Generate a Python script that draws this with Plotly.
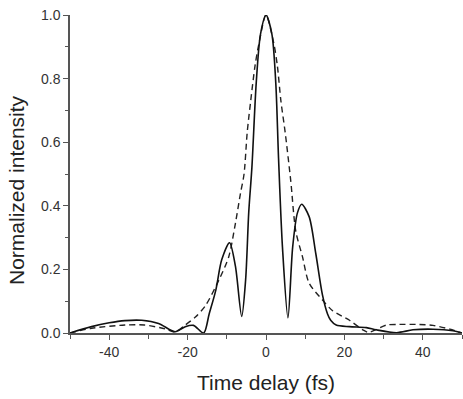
import plotly.graph_objects as go

# Solid curve (measured)
solid_x = [-50, -44.5, -40, -36, -31.7, -27.4, -23.2, -20.6, -18.5, -15.9, -14.5, -12.8, -11.3, -9.3,
           -7.8, -6.2, -5.2, -4.4, -3.6, -2.5, -1.4, 0, 1.5, 2.5, 3.2, 4.2, 5.6, 6.8, 8.0, 9.1,
           11.0, 12.7, 14.4, 15.7, 16.5, 17.9, 21.3, 25.6, 28.1, 33.3, 37.5, 42.6, 47.7, 50]
solid_y = [0.0, 0.02, 0.032, 0.039, 0.04, 0.03, 0.004, 0.02, 0.024, 0.0, 0.06, 0.135, 0.23, 0.284,
           0.21, 0.052, 0.167, 0.38, 0.52, 0.785, 0.94, 1.0, 0.94, 0.785, 0.55, 0.27, 0.048, 0.27, 0.377, 0.405,
           0.366, 0.25, 0.12, 0.06, 0.04, 0.025, 0.02, 0.017, 0.01, 0.001, 0.01, 0.012, 0.007, 0.0]

# Dashed curve (measured)
dash_x = [-50, -44.5, -36, -31, -25.7, -23.2, -20.6, -18, -15.5, -12, -9.5, -7.8, -6.5, -5.6,
          -4.8, -3.9, -2.8, -1.8, 0, 2.0, 2.9, 3.8, 4.9, 6.3, 7.6, 9.3, 11.0, 14.4, 17, 21.3,
          24.7, 26.2, 30.7, 34, 38.3, 42.6, 46.9, 50]
dash_y = [0.0, 0.015, 0.025, 0.025, 0.013, 0.003, 0.025, 0.05, 0.085, 0.167, 0.24, 0.345, 0.44, 0.50,
          0.63, 0.73, 0.84, 0.91, 1.0, 0.91, 0.84, 0.73, 0.63, 0.48, 0.32, 0.24, 0.157, 0.104, 0.07, 0.04,
          0.01, 0.002, 0.025, 0.027, 0.027, 0.024, 0.012, 0.0]

x_ticks = [-40, -20, 0, 20, 40]
y_ticks = [0.0, 0.2, 0.4, 0.6, 0.8, 1.0]
x_title = "Time delay (fs)"
y_title = "Normalized intensity"

fig = go.Figure()
fig.add_trace(go.Scatter(x=dash_x, y=dash_y, mode="lines",
                         line=dict(color="#222", width=1.4, dash="6px,4px", shape="spline", smoothing=0.8),
                         showlegend=False))
fig.add_trace(go.Scatter(x=solid_x, y=solid_y, mode="lines",
                         line=dict(color="#111", width=1.6, shape="spline", smoothing=0.8),
                         showlegend=False))

font_family = "Liberation Sans, Arial, sans-serif"
fig.update_layout(
    width=463, height=399,
    margin=dict(l=70, r=1, t=15, b=66),
    plot_bgcolor="white", paper_bgcolor="white",
    font=dict(family=font_family, color="#333"),
    xaxis=dict(range=[-50, 50], tickvals=x_ticks, ticktext=[str(v) for v in x_ticks],
               showgrid=False, zeroline=False, showline=True, linecolor="#555", linewidth=1.5,
               ticks="outside", ticklen=5, tickwidth=1.2, tickcolor="#555",
               minor=dict(dtick=10, tick0=0, ticks="outside", ticklen=4, tickwidth=1.2, tickcolor="#555", showgrid=False),
               tickfont=dict(size=14, color="#333")),
    yaxis=dict(range=[0, 1.0], tickvals=y_ticks, ticktext=["%.1f" % v for v in y_ticks],
               showgrid=False, zeroline=False, showline=True, linecolor="#555", linewidth=1.5,
               ticks="outside", ticklen=5, tickwidth=1.2, tickcolor="#555",
               minor=dict(dtick=0.1, tick0=0, ticks="outside", ticklen=3, tickwidth=1.2, tickcolor="#555", showgrid=False),
               tickfont=dict(size=14, color="#333")),
    annotations=[
        dict(text=x_title, xref="paper", yref="paper", x=0.501, y=-0.157, xanchor="center", yanchor="middle",
             showarrow=False, font=dict(size=21, color="#222")),
        dict(text=y_title, xref="paper", yref="paper", x=-0.135, y=0.45, xanchor="center", yanchor="middle",
             textangle=-90, showarrow=False, font=dict(size=21, color="#222")),
    ],
)

fig.write_html("out.html")
